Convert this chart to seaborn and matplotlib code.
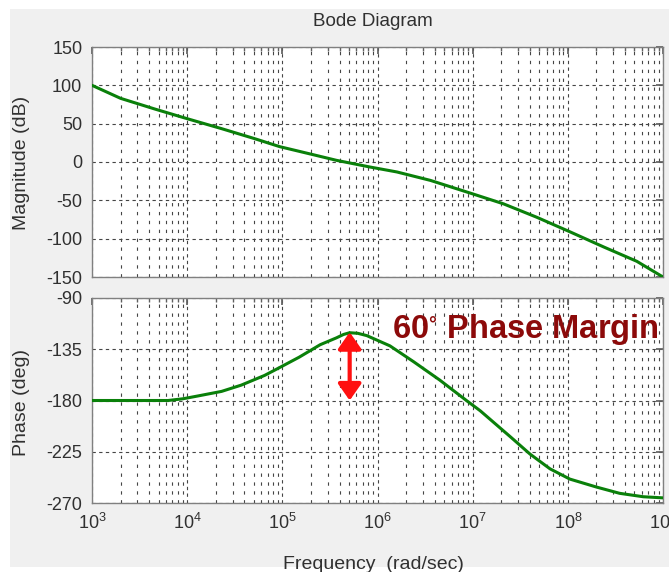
import matplotlib
matplotlib.use('Agg')
import matplotlib.pyplot as plt
from matplotlib.patches import Rectangle
from matplotlib.ticker import LogLocator, FixedLocator, NullFormatter
import seaborn as sns
import numpy as np

# magnitude curve
mag_freq = [1.0e3, 2.0e3, 4.6e3, 1.0e4, 2.3e4, 5.1e4, 9.4e4, 2.1e5, 3.7e5,
            8.3e5, 1.6e6, 3.6e6, 9.4e6, 2.1e7, 4.7e7, 1.05e8, 2.4e8, 5.3e8, 1.0e9]
mag_db = [100, 83, 69, 56.5, 43.5, 30.5, 20, 9.6, 2.2,
          -6.5, -13, -24, -40.5, -54.5, -72, -91, -111, -129.5, -150]

# phase curve
ph_freq = [1.0e3, 6.3e3, 9.0e3, 1.3e4, 2.3e4, 3.7e4, 6.5e4, 9.4e4, 1.5e5, 2.5e5,
           3.7e5, 4.4e5, 5.1e5, 6.2e5, 7.7e5, 1.35e6, 2.4e6, 4.5e6, 8.6e6, 1.2e7,
           1.5e7, 2.5e7, 4.0e7, 6.5e7, 1.05e8, 2.0e8, 3.5e8, 6.2e8, 1.0e9]
ph_deg = [-180, -180, -178.5, -176, -172, -166.5, -158, -151, -142, -131,
          -125, -122, -120.5, -121, -123, -132, -146, -162, -180, -189,
          -196, -212, -227, -240, -249, -256, -261.5, -264.5, -265.5]

mag_ticks = [150, 100, 50, 0, -50, -100, -150]
ph_ticks = [-90, -135, -180, -225, -270]
freq_ticks = [1e3, 1e4, 1e5, 1e6, 1e7, 1e8, 1e9]

pm_freq = 5.1e5
pm_top, pm_bottom = -120, -180

sns.set_theme(style='white')
plt.rcParams['font.family'] = ['Liberation Sans', 'DejaVu Sans']
plt.rcParams['mathtext.fontset'] = 'custom'
plt.rcParams['mathtext.rm'] = 'Liberation Sans'
plt.rcParams['mathtext.default'] = 'regular'
plt.rcParams['axes.unicode_minus'] = False

txt = '#303030'
green = '#0a800a'
gridc = '#454545'

fig = plt.figure(figsize=(6.69, 5.72), dpi=100, facecolor='white')
fig.patches.append(Rectangle((10 / 669, 5 / 572), 1, 1 - 14 / 572,
                             transform=fig.transFigure, facecolor='#f0f0f0',
                             edgecolor='none', zorder=-10))

ax1 = fig.add_axes([92 / 669, 1 - 277 / 572, 571 / 669, 230 / 572])
ax2 = fig.add_axes([92 / 669, 1 - 503 / 572, 571 / 669, 205 / 572], sharex=ax1)

sns.lineplot(x=mag_freq, y=mag_db, ax=ax1, color=green, linewidth=2.2, zorder=3)
sns.lineplot(x=ph_freq, y=ph_deg, ax=ax2, color=green, linewidth=2.2, zorder=3)

for ax in (ax1, ax2):
    ax.set_facecolor('white')
    ax.set_xscale('log')
    ax.set_xlim(1e3, 1e9)
    ax.xaxis.set_major_locator(FixedLocator(freq_ticks))
    ax.xaxis.set_minor_locator(LogLocator(base=10, subs=np.arange(2, 10)))
    ax.xaxis.set_minor_formatter(NullFormatter())
    ax.grid(True, which='major', axis='both', color=gridc, lw=0.8,
            linestyle=(0, (3, 3)))
    ax.grid(True, which='minor', axis='x', color=gridc, lw=0.8,
            linestyle=(0, (3, 5)))
    for s in ax.spines.values():
        s.set_color('#808080')
        s.set_linewidth(1.0)
    ax.tick_params(which='both', direction='in', top=True, right=True,
                   color='#606060', labelcolor=txt, labelsize=13, pad=7)
    ax.tick_params(which='major', length=5)
    ax.tick_params(which='minor', length=3)
    ax.set_xlabel('')

ax1.set_ylim(-150, 150)
ax1.set_yticks(mag_ticks)
ax1.tick_params(labelbottom=False)
ax2.set_ylim(-270, -90)
ax2.set_yticks(ph_ticks)

fig.text(22 / 669, 1 - 163 / 572, 'Magnitude (dB)', rotation=90, ha='center',
         va='center', fontsize=14, color=txt)
fig.text(22 / 669, 1 - 403 / 572, 'Phase (deg)', rotation=90, ha='center',
         va='center', fontsize=14, color=txt)
fig.text(373 / 669, 1 - 22 / 572, 'Bode Diagram', ha='center', va='center',
         fontsize=13.5, color=txt)
fig.text(373 / 669, 1 - 556 / 572, 'Frequency  (rad/sec)', ha='center',
         va='top', fontsize=14, color=txt)

ax2.annotate('', xy=(pm_freq, pm_top), xytext=(pm_freq, pm_bottom),
             arrowprops=dict(arrowstyle='<|-|>,head_length=0.5,head_width=0.35',
                             color='#ff1010', lw=3, mutation_scale=20,
                             shrinkA=0, shrinkB=0), zorder=4)
ax2.text(0.525, 0.805, '60$^{\\circ}$ Phase Margin', transform=ax2.transAxes,
         ha='left', va='baseline', fontsize=23.5, fontweight='bold',
         color='#8c0a0a', zorder=5)

plt.savefig('out.png', dpi=100)
plt.close()
